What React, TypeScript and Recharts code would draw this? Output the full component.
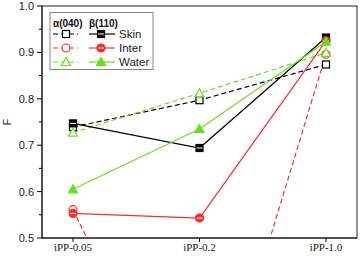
import { LineChart, Line, XAxis, YAxis, Label } from "recharts";

// Samples on the x axis
const categories = ["iPP-0.05", "iPP-0.2", "iPP-1.0"];

// α(040) series (dashed, open markers)
const skinAlpha = [0.739, 0.797, 0.874];
const interAlpha = [0.561, 0.0, 0.896];
const waterAlpha = [0.727, 0.812, 0.899];

// β(110) series (solid, filled markers)
const skinBeta = [0.747, 0.694, 0.932];
const interBeta = [0.553, 0.543, 0.925];
const waterBeta = [0.605, 0.735, 0.923];

const yTicks = [0.5, 0.55, 0.6, 0.65, 0.7, 0.75, 0.8, 0.85, 0.9, 0.95, 1.0];

const BLACK = "#000000";
const RED = "#ff2a2a";
const GREEN = "#66e01e";

const AXIS_X = 42;

const rows = categories.map((name, i) => ({
  name,
  skinA: skinAlpha[i],
  interA: interAlpha[i],
  waterA: waterAlpha[i],
  skinB: skinBeta[i],
  interB: interBeta[i],
  waterB: waterBeta[i],
}));

const series = [
  { label: "Skin", shape: "square", color: BLACK, a: "skinA", b: "skinB" },
  { label: "Inter", shape: "circle", color: RED, a: "interA", b: "interB" },
  { label: "Water", shape: "triangle", color: GREEN, a: "waterA", b: "waterB" },
];

const Marker = ({ cx, cy, shape, color, filled }: any) => {
  if (cx == null || cy == null) return null;
  const fill = filled ? color : "#fff";
  let body;
  if (shape === "square") {
    body = <rect x={cx - 3.5} y={cy - 3.5} width={7} height={7} fill={fill} stroke={color} strokeWidth={1.2} />;
  } else if (shape === "circle") {
    body = <circle cx={cx} cy={cy} r={4} fill={fill} stroke={color} strokeWidth={1.2} />;
  } else {
    body = (
      <polygon
        points={`${cx},${cy - 4.5} ${cx - 4.5},${cy + 3.5} ${cx + 4.5},${cy + 3.5}`}
        fill={fill}
        stroke={color}
        strokeWidth={1.2}
      />
    );
  }
  return (
    <g>
      {body}
      {filled && shape !== "triangle" && (
        <line x1={cx - 3} x2={cx + 3} y1={cy} y2={cy} stroke="#fff" strokeWidth={1} />
      )}
    </g>
  );
};

const YTick = ({ y, payload }: any) => {
  const v = payload.value;
  const major = Math.abs(v * 10 - Math.round(v * 10)) < 1e-6;
  return (
    <g>
      <line x1={AXIS_X - (major ? 5 : 3)} x2={AXIS_X} y1={y} y2={y} stroke="#000" />
      {major && (
        <text x={AXIS_X - 8} y={y} dy={4} textAnchor="end" fontSize={11} fill="#222" fontFamily="Liberation Sans, Arial, sans-serif">
          {v.toFixed(1)}
        </text>
      )}
    </g>
  );
};

const Overlay = () => (
  <svg width={360} height={256} style={{ position: "absolute", left: 0, top: 0, pointerEvents: "none" }}>
    {/* plot frame */}
    <rect x={42} y={6} width={315} height={232} fill="none" stroke="#222" />
    <rect x={50} y={12.5} width={103} height={57} fill="#fff" stroke="#888" />
    <text x={53} y={27} fontSize={10} fontWeight="bold" fontFamily="Liberation Sans, Arial, sans-serif" fill="#111">α(040)</text>
    <text x={89} y={27} fontSize={10} fontWeight="bold" fontFamily="Liberation Sans, Arial, sans-serif" fill="#111">β(110)</text>
    {series.map((s, i) => {
      const y = 34 + i * 14;
      return (
        <g key={s.label}>
          <line x1={53} x2={78} y1={y} y2={y} stroke={s.color} strokeWidth={1.2} strokeDasharray="5 3" />
          <Marker cx={66} cy={y} shape={s.shape} color={s.color} filled={false} />
          <line x1={89} x2={115} y1={y} y2={y} stroke={s.color} strokeWidth={1.2} />
          <Marker cx={101} cy={y} shape={s.shape} color={s.color} filled={true} />
          <text x={119} y={y + 4} fontSize={11.5} fontFamily="Liberation Sans, Arial, sans-serif" fill="#222">{s.label}</text>
        </g>
      );
    })}
  </svg>
);

export default function App() {
  return (
    <div style={{ position: "absolute", left: 0, top: 0, width: 360, height: 256, background: "#fff" }}>
      <LineChart width={360} height={256} data={rows} margin={{ top: 6, right: 3, bottom: 0, left: 0 }}>
        <XAxis
          dataKey="name"
          padding={{ left: 31, right: 31 }}
          height={18}
          tickSize={4}
          tickMargin={1}
          stroke="#000"
          tick={{ fontSize: 11, fill: "#222", fontFamily: "Liberation Serif, Times New Roman, serif" }}
        />
        <YAxis
          width={AXIS_X}
          domain={[0.5, 1.0]}
          ticks={yTicks}
          interval={0}
          allowDataOverflow
          tickLine={false}
          stroke="#000"
          tick={<YTick />}
        >
          <Label
            content={() => (
              <text x={7} y={122} dy={4} textAnchor="middle" fontSize={11} fontFamily="Liberation Sans, Arial, sans-serif" fill="#222" transform="rotate(-90 7 122)">
                F
              </text>
            )}
          />
        </YAxis>
        {series.map((s) => (
          <Line
            key={s.a}
            dataKey={s.a}
            stroke={s.color}
            strokeWidth={1.2}
            strokeDasharray="5 3"
            isAnimationActive={false}
            dot={(p: any) => <Marker key={`${s.a}-${p.index}`} cx={p.cx} cy={p.cy} shape={s.shape} color={s.color} filled={false} />}
          />
        ))}
        {series.map((s) => (
          <Line
            key={s.b}
            dataKey={s.b}
            stroke={s.color}
            strokeWidth={1.2}
            isAnimationActive={false}
            dot={(p: any) => <Marker key={`${s.b}-${p.index}`} cx={p.cx} cy={p.cy} shape={s.shape} color={s.color} filled={true} />}
          />
        ))}
      </LineChart>
      <Overlay />
    </div>
  );
}
